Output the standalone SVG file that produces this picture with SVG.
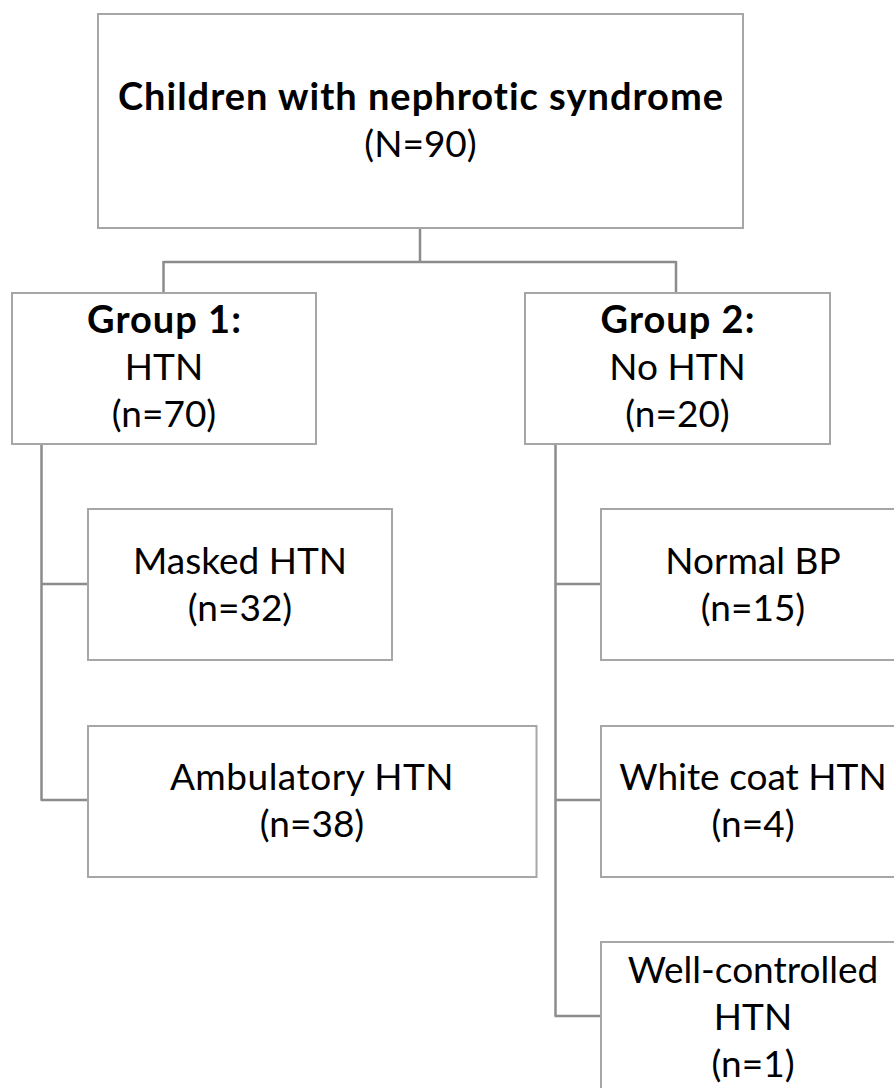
<svg xmlns="http://www.w3.org/2000/svg" width="894" height="1088" viewBox="0 0 894 1088">
<style>
.box{fill:#ffffff;stroke:#a6a6a6;stroke-width:2}
.con{fill:none;stroke:#8c8c8c;stroke-width:2.5}
text{font-family:Lato,"Open Sans","Liberation Sans",sans-serif;font-size:37px;fill:#000;text-anchor:middle}
.b{font-weight:bold;font-size:38px;letter-spacing:1px}
</style>
<rect width="894" height="1088" fill="#ffffff"/>
<g id="connectors">
<path class="con" d="M420,228 V262 M163.5,262 H676 M163.5,261 V293 M676,261 V293"/>
<path class="con" d="M41.5,444 V800 M40.5,584 H88 M40.5,800 H88"/>
<path class="con" d="M555.5,444 V1016 M554.5,584 H601 M554.5,800 H601 M554.5,1016 H601"/>
</g>
<g id="root">
<rect class="box" x="98" y="14" width="645" height="214"/>
<text class="b" x="421" y="110">Children with nephrotic syndrome</text>
<text x="420.5" y="157">(N=90)</text>
</g>
<g id="group1">
<rect class="box" x="12" y="293" width="304" height="151"/>
<text class="b" x="164.5" y="333">Group 1:</text>
<text x="164" y="380">HTN</text>
<text x="164" y="427">(n=70)</text>
</g>
<g id="group2">
<rect class="box" x="525" y="293" width="305" height="151"/>
<text class="b" x="678" y="333">Group 2:</text>
<text x="677.5" y="380">No HTN</text>
<text x="677.5" y="427">(n=20)</text>
</g>
<g id="masked">
<rect class="box" x="88" y="509" width="304" height="151"/>
<text x="240" y="574">Masked HTN</text>
<text x="240" y="621">(n=32)</text>
</g>
<g id="ambulatory">
<rect class="box" x="88" y="726" width="448.5" height="151"/>
<text x="312" y="790" style="letter-spacing:0.5px">Ambulatory HTN</text>
<text x="312" y="837">(n=38)</text>
</g>
<g id="normal">
<rect class="box" x="601" y="509" width="304" height="151"/>
<text x="753" y="574">Normal BP</text>
<text x="753" y="621">(n=15)</text>
</g>
<g id="whitecoat">
<rect class="box" x="601" y="726" width="304" height="151"/>
<text x="753" y="790">White coat HTN</text>
<text x="753" y="837">(n=4)</text>
</g>
<g id="wellcontrolled">
<rect class="box" x="601" y="942" width="304" height="151"/>
<text x="753" y="983">Well-controlled</text>
<text x="753" y="1030">HTN</text>
<text x="753" y="1077">(n=1)</text>
</g>
</svg>
